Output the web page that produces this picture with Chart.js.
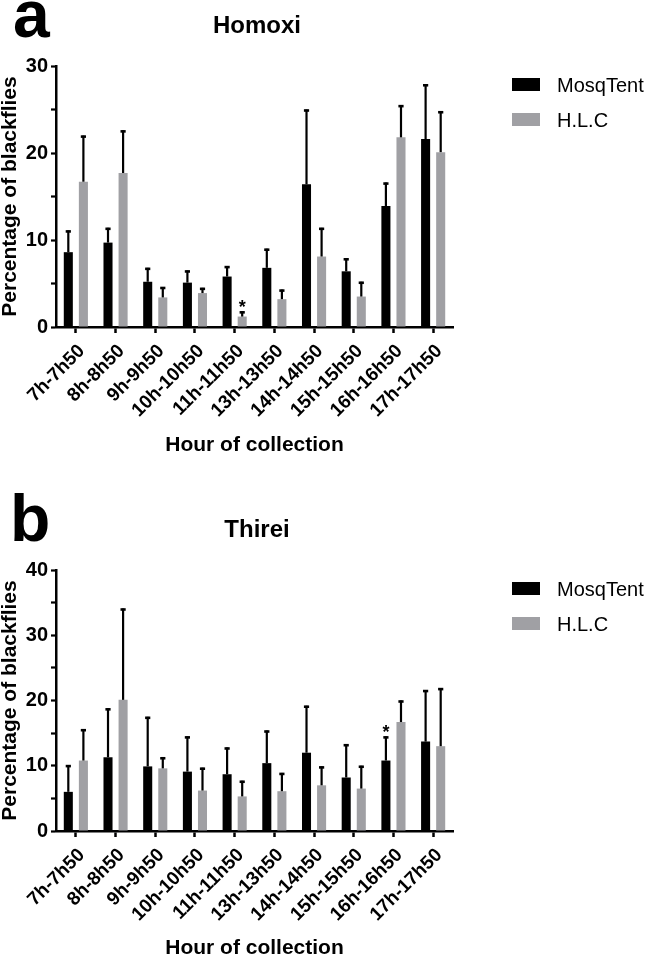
<!DOCTYPE html>
<html>
<head>
<meta charset="utf-8">
<script src="https://cdn.jsdelivr.net/npm/chart.js@4.4.1/dist/chart.umd.min.js"></script>
<style>
  body { margin: 0; background: #fff; }
  .panel { position: absolute; left: 0; width: 648px; }
</style>
</head>
<body>
<div class="panel" style="top:0;height:480px"><canvas id="chartA"></canvas></div>
<div class="panel" style="top:480px;height:479px"><canvas id="chartB"></canvas></div>
<script>
// categorias y series
const hours = ["7h-7h50", "8h-8h50", "9h-9h50", "10h-10h50", "11h-11h50", "13h-13h50", "14h-14h50", "15h-15h50", "16h-16h50", "17h-17h50"];
const seriesNames = ["MosqTent", "H.L.C"];

// Homoxi
const homoxiMosq    = [8.6, 9.7, 5.2, 5.1, 5.8, 6.8, 16.4, 6.4, 13.9, 21.6];
const homoxiMosqErr = [11.1, 11.4, 6.8, 6.5, 7.0, 9.0, 25.0, 7.9, 16.6, 27.9];
const homoxiHlc     = [16.7, 17.7, 3.4, 3.9, 1.2, 3.2, 8.1, 3.5, 21.8, 20.1];
const homoxiHlcErr  = [22.0, 22.6, 4.6, 4.5, 1.8, 4.3, 11.4, 5.2, 25.5, 24.8];

// Thirei
const thireiMosq    = [6.0, 11.3, 9.9, 9.1, 8.7, 10.4, 12.0, 8.2, 10.8, 13.7];
const thireiMosqErr = [10.1, 18.8, 17.5, 14.5, 12.8, 15.4, 19.2, 13.3, 14.5, 21.6];
const thireiHlc     = [10.8, 20.1, 9.6, 6.2, 5.3, 6.1, 7.0, 6.5, 16.7, 13.0];
const thireiHlcErr  = [15.6, 34.1, 11.3, 9.7, 7.7, 8.9, 9.9, 10.0, 20.0, 21.9];

// ejes y marcas de significancia
const yMaxA = 30;
const yMaxB = 40;
const starA = [1, 4];   // [serie, categoria]
const starB = [0, 8];

const FONT = "'Liberation Sans', Arial, sans-serif";
const colors = ["#000000", "#a0a0a4"];

function makePanel(id, letter, title, mosq, mosqErr, hlc, hlcErr, yMax, star, chartTop, h, titlePad) {
  const panelText = {
    id: "panelText",
    afterDatasetsDraw(chart) {
      const ctx = chart.ctx;
      const y = chart.scales.y;
      ctx.save();
      // barras de error (solo hacia arriba)
      chart.data.datasets.forEach((ds, i) => {
        chart.getDatasetMeta(i).data.forEach((bar, j) => {
          const yTop = y.getPixelForValue(ds.errTop[j]);
          ctx.strokeStyle = "#000";
          ctx.lineWidth = 2.2;
          ctx.beginPath();
          ctx.moveTo(bar.x, bar.y);
          ctx.lineTo(bar.x, yTop);
          ctx.stroke();
          ctx.lineWidth = 2.6;
          ctx.beginPath();
          ctx.moveTo(bar.x - 2.6, yTop + 1);
          ctx.lineTo(bar.x + 2.6, yTop + 1);
          ctx.stroke();
        });
      });
      // asterisco
      const sb = chart.getDatasetMeta(star[0]).data[star[1]];
      const sy = y.getPixelForValue(chart.data.datasets[star[0]].errTop[star[1]]);
      ctx.fillStyle = "#000";
      ctx.font = "bold 18px " + FONT;
      ctx.textAlign = "center";
      ctx.textBaseline = "alphabetic";
      ctx.fillText("*", sb.x, sy + 2);
      ctx.restore();
    },
    afterDraw(chart) {
      const ctx = chart.ctx;
      const top = chart.chartArea.top;
      ctx.save();
      ctx.fillStyle = "#000";
      ctx.textBaseline = "alphabetic";
      ctx.textAlign = "left";
      ctx.font = "bold 66px " + FONT;
      ctx.fillText(letter, letter === "a" ? 13 : 10, top - 29);
      ctx.textAlign = "center";
      ctx.font = "bold 24px " + FONT;
      ctx.fillText(title, 257, top - 33);
      // leyenda
      ctx.textAlign = "left";
      ctx.font = "20px " + FONT;
      chart.data.datasets.forEach((ds, i) => {
        const by = top + 12 + i * 35;
        ctx.fillStyle = ds.backgroundColor;
        ctx.fillRect(512, by, 28, 13);
        ctx.fillStyle = "#000";
        ctx.fillText(ds.label, 557, by + 14);
      });
      ctx.restore();
    }
  };

  new Chart(document.getElementById(id), {
    type: "bar",
    data: {
      labels: hours,
      datasets: [
        { label: seriesNames[0], data: mosq, errTop: mosqErr, backgroundColor: colors[0] },
        { label: seriesNames[1], data: hlc, errTop: hlcErr, backgroundColor: colors[1] }
      ]
    },
    options: {
      responsive: true,
      maintainAspectRatio: false,
      animation: false,
      datasets: { bar: { categoryPercentage: 0.76, barPercentage: 0.6, borderWidth: 0 } },
      layout: { padding: { top: chartTop, right: 195, left: 0, bottom: 0 } },
      scales: {
        x: {
          afterFit: s => { s.height = h - chartTop - 261; },
          grid: { display: true, drawOnChartArea: false, offset: false, color: "#000", tickLength: 6, tickWidth: 2.5 },
          border: { display: true, color: "#000", width: 2.5 },
          ticks: { color: "#000", autoSkip: false, maxRotation: 45, minRotation: 45, padding: 7, labelOffset: 6,
                   font: { family: FONT, size: 19, weight: "bold" } },
          title: { display: true, text: "Hour of collection", color: "#000",
                   font: { family: FONT, size: 21, weight: "bold", lineHeight: 1 },
                   padding: { top: 0, bottom: titlePad } }
        },
        y: {
          min: 0,
          max: yMax,
          afterFit: s => { s.width = 56; },
          grid: { display: true, drawOnChartArea: false, color: "#000", tickLength: 5, tickWidth: 2.2 },
          border: { display: true, color: "#000", width: 2.5 },
          ticks: { stepSize: 5, color: "#000", padding: 3,
                   callback: v => (v % 10 === 0 ? v : ""),
                   font: { family: FONT, size: 20, weight: "bold" } },
          title: { display: true, text: "Percentage of blackflies", color: "#000",
                   font: { family: FONT, size: 21, weight: "bold", lineHeight: 1 },
                   padding: 0 }
        }
      },
      plugins: {
        legend: { display: false },
        tooltip: { enabled: false },
        title: { display: false }
      }
    },
    plugins: [panelText]
  });
}

makePanel("chartA", "a", "Homoxi", homoxiMosq, homoxiMosqErr, homoxiHlc, homoxiHlcErr, yMaxA, starA, 66, 480, 24);
makePanel("chartB", "b", "Thirei", thireiMosq, thireiMosqErr, thireiHlc, thireiHlcErr, yMaxB, starB, 90, 479, 0);
</script>
</body>
</html>
